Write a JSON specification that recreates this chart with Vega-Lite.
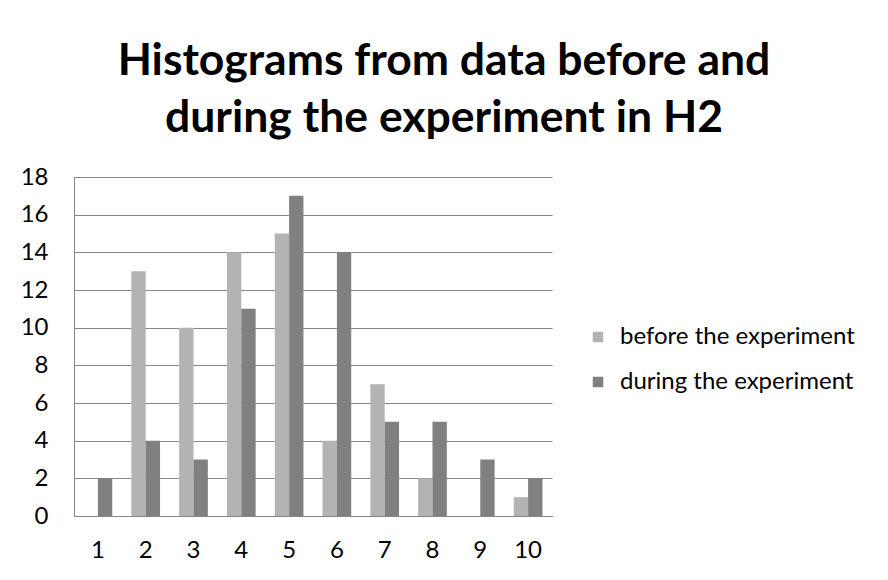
{
  "$schema": "https://vega.github.io/schema/vega-lite/v6.json",
  "width": 478,
  "height": 339,
  "autosize": {"type": "none"},
  "padding": {"left": 74, "top": 177, "right": 336, "bottom": 64},
  "background": "white",
  "title": {
    "text": ["Histograms from data before and", "during the experiment in H2"],
    "font": "Lato",
    "fontSize": 44.5,
    "fontWeight": "bold",
    "color": "#000000",
    "anchor": "middle",
    "dx": 131,
    "baseline": "alphabetic",
    "lineHeight": 57,
    "offset": -11
  },
  "data": {
    "values": [
      {"bin": 1, "series": "before the experiment", "count": 0},
      {"bin": 1, "series": "during the experiment", "count": 2},
      {"bin": 2, "series": "before the experiment", "count": 13},
      {"bin": 2, "series": "during the experiment", "count": 4},
      {"bin": 3, "series": "before the experiment", "count": 10},
      {"bin": 3, "series": "during the experiment", "count": 3},
      {"bin": 4, "series": "before the experiment", "count": 14},
      {"bin": 4, "series": "during the experiment", "count": 11},
      {"bin": 5, "series": "before the experiment", "count": 15},
      {"bin": 5, "series": "during the experiment", "count": 17},
      {"bin": 6, "series": "before the experiment", "count": 4},
      {"bin": 6, "series": "during the experiment", "count": 14},
      {"bin": 7, "series": "before the experiment", "count": 7},
      {"bin": 7, "series": "during the experiment", "count": 5},
      {"bin": 8, "series": "before the experiment", "count": 2},
      {"bin": 8, "series": "during the experiment", "count": 5},
      {"bin": 9, "series": "before the experiment", "count": 0},
      {"bin": 9, "series": "during the experiment", "count": 3},
      {"bin": 10, "series": "before the experiment", "count": 1},
      {"bin": 10, "series": "during the experiment", "count": 2}
    ]
  },
  "mark": {"type": "bar"},
  "encoding": {
    "x": {
      "field": "bin",
      "type": "ordinal",
      "scale": {"paddingInner": 0.4, "paddingOuter": 0.2},
      "axis": {
        "title": null,
        "labelAngle": 0,
        "ticks": false,
        "domainColor": "#868686",
        "domainWidth": 1,
        "labelFont": "Lato",
        "labelFontSize": 24,
        "labelColor": "#000000",
        "labelPadding": 22,
        "grid": false
      }
    },
    "xOffset": {
      "field": "series",
      "type": "nominal",
      "scale": {"paddingInner": 0, "paddingOuter": 0}
    },
    "y": {
      "field": "count",
      "type": "quantitative",
      "scale": {"domain": [0, 18], "nice": false},
      "axis": {
        "title": null,
        "values": [0, 2, 4, 6, 8, 10, 12, 14, 16, 18],
        "ticks": false,
        "domainColor": "#868686",
        "domainWidth": 1,
        "gridColor": "#868686",
        "gridWidth": 1,
        "gridOpacity": 1,
        "labelFont": "Lato",
        "labelFontSize": 24,
        "labelColor": "#000000",
        "labelPadding": 26
      }
    },
    "color": {
      "field": "series",
      "type": "nominal",
      "scale": {
        "domain": ["before the experiment", "during the experiment"],
        "range": ["#b3b3b3", "#808080"]
      },
      "legend": {
        "title": null,
        "orient": "none",
        "legendX": 512,
        "legendY": 148,
        "symbolType": "square",
        "symbolSize": 110,
        "symbolStrokeWidth": 0,
        "symbolOpacity": 1,
        "labelFont": "Lato",
        "labelFontSize": 24,
        "labelColor": "#000000",
        "labelOffset": 10,
        "rowPadding": 21,
        "labelLimit": 320
      }
    }
  },
  "config": {
    "view": {"stroke": null},
    "axis": {"domainCap": "square"}
  }
}
